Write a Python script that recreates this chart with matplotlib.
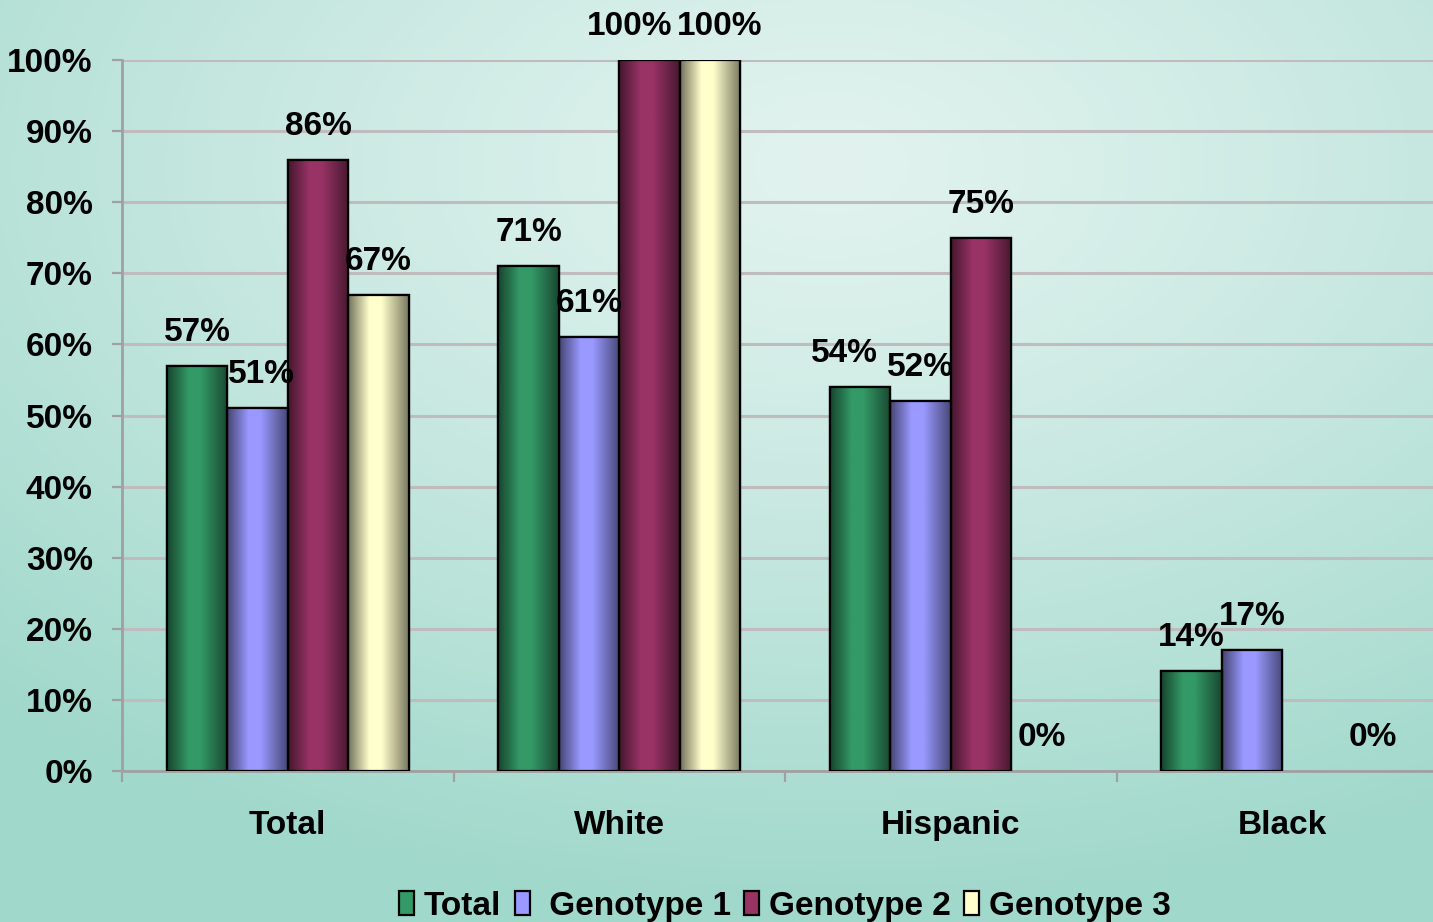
import numpy as np
import matplotlib.pyplot as plt
from matplotlib.colors import to_rgb

# data (percent); nan = no bar
categories = ['Total', 'White', 'Hispanic', 'Black']
series = ['Total', ' Genotype 1', 'Genotype 2', 'Genotype 3']
total_vals = [57, 71, 54, 14]
geno1_vals = [51, 61, 52, 17]
geno2_vals = [86, 100, 75, np.nan]
geno3_vals = [67, 100, 0, 0]
all_vals = [total_vals, geno1_vals, geno2_vals, geno3_vals]
bar_colors = ['#339966', '#9999ff', '#993366', '#ffffcc']

# some labels are pushed sideways in the original so they don't collide
label_nudge = {(2, 1): -14, (3, 1): 7, (0, 2): -11, (1, 0): 3}

plt.rcParams['font.family'] = ['Liberation Sans', 'DejaVu Sans']
plt.rcParams['font.weight'] = 'bold'
FS = 24

fig = plt.figure(figsize=(14.33, 9.22), dpi=100)

# background radial gradient
bg = fig.add_axes([0, 0, 1, 1], zorder=-10)
bg.axis('off')
yy, xx = np.mgrid[0:1:300j, 0:1:460j]
d = np.sqrt(((xx - 0.58) / 1.0) ** 2 + ((yy - 0.82) / 0.95) ** 2)
d = np.clip(d / 0.85, 0, 1) ** 1.2
light = np.array(to_rgb('#e2f3ef'))
dark = np.array(to_rgb('#a0d8cb'))
img = light[None, None, :] * (1 - d[..., None]) + dark[None, None, :] * d[..., None]
bg.imshow(img, origin='lower', extent=[0, 1, 0, 1], aspect='auto')
bg.set_xlim(0, 1)
bg.set_ylim(0, 1)

ax = fig.add_axes([122 / 1433, 151 / 922, 1326 / 1433, 711 / 922])
ax.patch.set_alpha(0)

x = np.arange(len(categories))
w = 0.1825
offsets = [-1.5, -0.5, 0.5, 1.5]

# horizontal shading profile for a "cylinder" look
tt = np.linspace(0, 1, 64)
prof = np.interp(tt, [0, 0.35, 0.55, 1.0], [0.0, 1.0, 1.0, 0.05])

handles = []
for si, (vals, col, off, name) in enumerate(zip(all_vals, bar_colors, offsets, series)):
    bars = ax.bar(x + off * w, vals, w, color=col, edgecolor='black',
                  linewidth=1.6, zorder=3, label=name)
    c = np.array(to_rgb(col))
    shade = c[None, :] * (0.45 + 0.55 * prof[:, None])
    for b in bars:
        h = b.get_height()
        if np.isnan(h) or h <= 0:
            b.set_linewidth(0)
            continue
        im = ax.imshow(shade[None, :, :], extent=[b.get_x(), b.get_x() + b.get_width(), 0, h],
                       aspect='auto', zorder=3.5, interpolation='bilinear')
        im.set_clip_path(b)
        ax.add_patch(plt.Rectangle((b.get_x(), 0), b.get_width(), h, fill=False,
                                   edgecolor='black', linewidth=1.6, zorder=4))
    for ci, (xi, v) in enumerate(zip(x + off * w, vals)):
        if np.isnan(v):
            continue
        dx = label_nudge.get((si, ci), 0)
        ax.annotate(f'{v:.0f}%', (xi, v), xytext=(dx, 18), textcoords='offset points',
                    ha='center', va='baseline', fontsize=FS, fontweight='bold', zorder=5)
    handles.append(bars)

ax.set_xlim(-0.5, 3.5)
ax.set_ylim(0, 100)
ax.set_yticks(range(0, 101, 10))
ax.set_yticklabels([f'{v}%' for v in range(0, 101, 10)], fontsize=FS, fontweight='bold')
ax.yaxis.grid(True, color='#c0bcbe', linewidth=2.2, zorder=0)
ax.set_axisbelow(True)

ax.set_xticks(x)
ax.set_xticklabels(categories, fontsize=FS, fontweight='bold')
ax.set_xticks(np.arange(-0.5, 4.0, 1.0), minor=True)
ax.tick_params(axis='x', which='major', length=0, pad=28)
ax.tick_params(axis='x', which='minor', length=8, width=1.6, color='#a0a0a0', direction='out')
ax.tick_params(axis='y', length=7, width=1.6, color='#a0a0a0', pad=14)

for s in ['top', 'right']:
    ax.spines[s].set_visible(False)
for s in ['left', 'bottom']:
    ax.spines[s].set_color('#a0a0a0')
    ax.spines[s].set_linewidth(2)

leg = ax.legend(handles=handles, loc='center', bbox_to_anchor=(0.5, -0.19), ncol=4,
                frameon=False, fontsize=FS, handlelength=0.45, handleheight=0.7,
                handletextpad=0.3, columnspacing=0.4, borderaxespad=0)
for t in leg.get_texts():
    t.set_fontweight('bold')

fig.savefig('out.png', dpi=100)
